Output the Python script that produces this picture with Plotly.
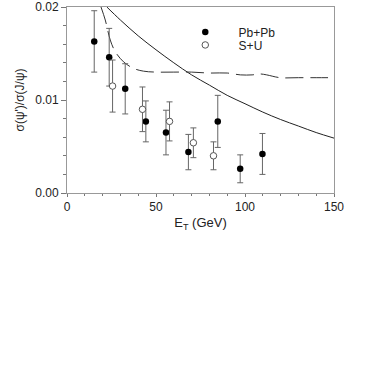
import plotly.graph_objects as go

# Pb+Pb data
pb_x = [15.3, 23.7, 32.7, 44.3, 55.6, 68.2, 84.7, 97.3, 109.8]
pb_y = [0.0163, 0.0146, 0.0112, 0.0077, 0.0065, 0.0044, 0.0077, 0.0026, 0.0042]
pb_err = [0.0033, 0.0031, 0.0027, 0.0022, 0.0024, 0.0019, 0.0028, 0.0015, 0.0022]

# S+U data
su_x = [25.6, 42.4, 57.6, 71.0, 82.3]
su_y = [0.0115, 0.0090, 0.0077, 0.0054, 0.0040]
su_err = [0.0028, 0.0024, 0.0021, 0.0016, 0.0015]

# solid curve
sol_x = [22.4, 30, 40, 50, 60, 70, 80, 90, 100, 110, 120, 130, 140, 150]
sol_y = [0.0200, 0.0186, 0.0169, 0.0154, 0.0140, 0.0127, 0.0116, 0.0105,
         0.0096, 0.0087, 0.0079, 0.0072, 0.0065, 0.0059]

# dashed curve
dash_x = [19.1, 21.5, 24.3, 27.1, 31.8, 37.4, 43.0, 50, 60, 70, 80, 90,
          97.4, 104, 108.5, 112.2, 119.7, 130, 140, 150]
dash_y = [0.0200, 0.0186, 0.01645, 0.0152, 0.0141, 0.0134, 0.0131, 0.0130,
          0.0130, 0.0130, 0.0129, 0.0129, 0.0127, 0.0127, 0.0128, 0.0127,
          0.0124, 0.0124, 0.0124, 0.0124]

series_names = ["Pb+Pb", "S+U"]

FONT = "Liberation Sans, Arial, sans-serif"
PAD = "\u00a0\u00a0\u00a0\u00a0"

fig = go.Figure()
fig.add_trace(go.Scatter(x=sol_x, y=sol_y, mode="lines", showlegend=False,
                         line=dict(color="#222", width=1, shape="spline"),
                         hoverinfo="skip"))
fig.add_trace(go.Scatter(x=dash_x, y=dash_y, mode="lines", showlegend=False,
                         line=dict(color="#333", width=1, dash="18px,7px", shape="spline"),
                         hoverinfo="skip"))
fig.add_trace(go.Scatter(x=pb_x, y=pb_y, mode="markers", name=PAD + series_names[0],
                         legend="legend",
                         marker=dict(symbol="circle", size=6.5, color="black"),
                         error_y=dict(type="data", array=pb_err, color="#666",
                                      thickness=1, width=3)))
fig.add_trace(go.Scatter(x=su_x, y=su_y, mode="markers", name=PAD + series_names[1],
                         legend="legend2",
                         marker=dict(symbol="circle", size=6.5, color="white",
                                     line=dict(color="#555", width=1)),
                         error_y=dict(type="data", array=su_err, color="#666",
                                      thickness=1, width=3)))

axis_common = dict(showgrid=False, zeroline=False, showline=True,
                   linecolor="#999", linewidth=1, mirror=True, automargin=False,
                   ticks="outside", tickcolor="#777", tickwidth=1,
                   tickfont=dict(family=FONT, size=12, color="#222"))

fig.update_xaxes(range=[0, 150], dtick=50, tick0=0, ticklen=3,
                 minor=dict(dtick=10, ticks="outside", ticklen=2, tickcolor="#777"),
                 title=dict(text="E<sub>T</sub> (GeV)", font=dict(family=FONT, size=13, color="#222"),
                            standoff=4),
                 **axis_common)
fig.update_yaxes(range=[0, 0.02], dtick=0.01, tick0=0, tickformat=".2f", ticklen=5,
                 minor=dict(dtick=0.002, ticks="outside", ticklen=3, tickcolor="#777"),
                 title=dict(text="σ(ψ')/σ(J/ψ)", font=dict(family=FONT, size=12, color="#222"),
                            standoff=8),
                 **axis_common)

leg_common = dict(xanchor="left", yanchor="middle", bgcolor="rgba(0,0,0,0)",
                  font=dict(family=FONT, size=12, color="#222"), itemwidth=30,
                  borderwidth=0)

fig.update_layout(
    width=382, height=382,
    margin=dict(l=67, r=48, t=7, b=189, pad=0),
    paper_bgcolor="white", plot_bgcolor="white",
    showlegend=True,
    legend=dict(x=0.443, y=0.866, **leg_common),
    legend2=dict(x=0.443, y=0.796, **leg_common),
)

fig.write_html("out.html", config={"displayModeBar": False},
               post_script="document.body.style.margin='0';document.body.style.overflow='hidden';")
